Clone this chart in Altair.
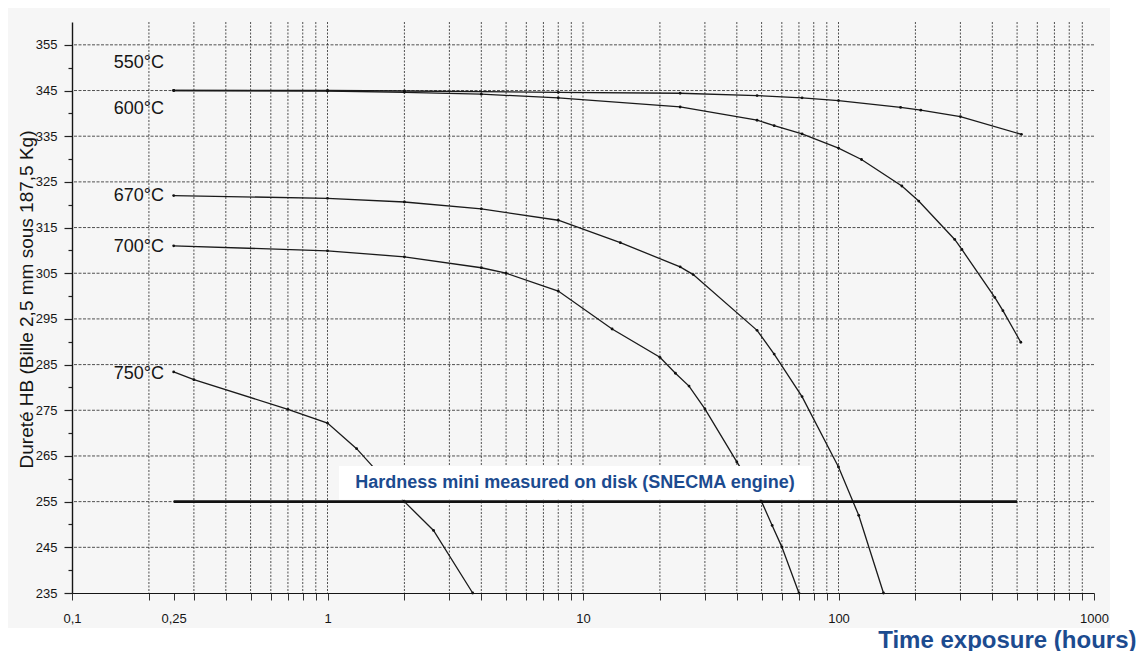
import altair as alt
import pandas as pd

# ---------------- data ----------------
temps = ["550°C", "600°C", "670°C", "700°C", "750°C"]

hours_550 = [0.25, 1, 2, 8, 24, 48, 72, 100, 175, 210, 300, 520]
hb_550 = [345, 345, 344.9, 344.6, 344.4, 343.9, 343.4, 342.8, 341.3, 340.7, 339.3, 335.4]

hours_600 = [0.25, 1, 2, 4, 8, 24, 48, 56, 72, 100, 123, 177, 206, 285, 304, 409, 440, 517]
hb_600 = [345, 344.9, 344.6, 344.2, 343.4, 341.4, 338.5, 337.3, 335.5, 332.4, 329.9, 324.1,
          320.8, 312.4, 310.2, 299.7, 296.8, 289.9]

hours_670 = [0.25, 1, 2, 4, 8, 14, 24, 27, 48, 56, 72, 100, 120, 150]
hb_670 = [322, 321.4, 320.6, 319.1, 316.6, 311.7, 306.4, 304.7, 292.5, 287.3, 278, 262.6, 252, 235]

hours_700 = [0.25, 1, 2, 4, 5, 8, 13, 20, 23, 26, 30, 40, 50, 55, 60, 70]
hb_700 = [311, 309.9, 308.6, 306.2, 305, 301.1, 292.8, 286.6, 283.1, 280.3, 275.3, 263.7,
          255, 249.8, 245.1, 235]

hours_750 = [0.25, 0.3, 0.7, 1, 1.3, 2, 2.6, 3.7]
hb_750 = [283.4, 281.7, 275.2, 272.2, 266.6, 255, 248.7, 235]

label_hours = 0.229
label_hb = [351.1, 341.0, 321.9, 310.7, 282.9]

ref_hours = [0.25, 500]
ref_hb = 255
ref_text = "Hardness mini measured on disk (SNECMA engine)"
box_hours = [1.11, 78]
box_hb = [255.4, 262.8]
box_text_at = [9.3, 259.0]

grid_x = [0.2, 0.3, 0.4, 0.5, 0.6, 0.7, 0.8, 0.9,
          1, 2, 3, 4, 5, 6, 7, 8, 9,
          10, 20, 30, 40, 50, 60, 70, 80, 90,
          100, 200, 300, 400, 500, 600, 700, 800, 900]
grid_y = [245, 255, 265, 275, 285, 295, 305, 315, 325, 335, 345, 355]
x_label_values = [0.1, 0.25, 1, 10, 100, 1000]
x_label_texts = ["0,1", "0,25", "1", "10", "100", "1000"]
y_tick_values = list(range(235, 360, 5))

x_title = "Time exposure (hours)"
y_title = "Dureté HB (Bille 2,5 mm sous 187,5 Kg)"

BLUE = "#1c4b8f"
INK = "#151515"
FONT = "Liberation Sans"

# ---------------- tables ----------------
series = [(hours_550, hb_550), (hours_600, hb_600), (hours_670, hb_670),
          (hours_700, hb_700), (hours_750, hb_750)]
curves = pd.concat(
    [pd.DataFrame({"x": h, "y": v, "temp": t}) for t, (h, v) in zip(temps, series)],
    ignore_index=True)
labels_df = pd.DataFrame({"x": [label_hours] * len(temps), "y": label_hb, "temp": temps})
gx_df = pd.DataFrame({"x": grid_x})
gy_df = pd.DataFrame({"y": grid_y})
ref_df = pd.DataFrame({"x": [ref_hours[0]], "x2": [ref_hours[1]], "y": [ref_hb]})
box_df = pd.DataFrame({"x": [box_hours[0]], "x2": [box_hours[1]],
                       "y": [box_hb[0]], "y2": [box_hb[1]]})
boxtxt_df = pd.DataFrame({"x": [box_text_at[0]], "y": [box_text_at[1]], "t": [ref_text]})

# ---------------- scales / axes ----------------
x_ticks = sorted(set(grid_x + x_label_values))
label_expr = " : ".join(
    [f"abs(datum.value - {v}) < 1e-9 ? '{t}'" for v, t in zip(x_label_values, x_label_texts)]
) + " : ''"

x_axis = alt.Axis(
    values=x_ticks, labelExpr=label_expr, grid=False, labelOverlap=False, labelFlush=False,
    tickSize=7, tickColor="#333", tickWidth=1, domainColor=INK, domainWidth=1.2,
    labelFont=FONT, labelFontSize=13, labelColor=INK, labelPadding=12, labelBaseline="top",
    title=x_title, titleFont=FONT, titleFontSize=24, titleFontWeight="bold", titleColor=BLUE,
    titleX=1064, titleY=54, titleAlign="right", titleBaseline="alphabetic", zindex=1)

y_axis = alt.Axis(
    values=y_tick_values, labelExpr="datum.value % 10 == 5 ? datum.value : ''",
    grid=False, labelOverlap=False, labelFlush=False,
    tickSize={"condition": {"test": "datum.value % 10 == 5", "value": 8}, "value": 4},
    tickColor="#222", tickWidth=1.2, domainColor=INK, domainWidth=1.4,
    labelFont=FONT, labelFontSize=13, labelColor=INK, labelPadding=7, labelBaseline="middle",
    title=y_title, titleFont=FONT, titleFontSize=19, titleFontWeight="normal", titleColor=INK,
    titleAngle=270, titleX=-46, titleY=277, titleAlign="center", titleBaseline="middle",
    zindex=1)

xs = alt.Scale(type="log", domain=[0.1, 1000], nice=False)
ys = alt.Scale(domain=[235, 360], nice=False, zero=False)
X = alt.X("x:Q", scale=xs, axis=x_axis)
Y = alt.Y("y:Q", scale=ys, axis=y_axis)

# ---------------- layers ----------------
bg = alt.Chart(pd.DataFrame({"a": [0]})).mark_rect(color="#f6f6f6").encode(
    x=alt.value(-64), x2=alt.value(1038), y=alt.value(-14), y2=alt.value(606))

vgrid = alt.Chart(gx_df).mark_rule(color="#2a2a2a", strokeWidth=0.9, strokeDash=[2, 1.5],
                                   opacity=0.9).encode(x=X)
hgrid = alt.Chart(gy_df).mark_rule(color="#2a2a2a", strokeWidth=0.9, strokeDash=[3, 1.5],
                                   opacity=0.9).encode(y=Y)

lines = alt.Chart(curves).mark_line(color="#1a1a1a", strokeWidth=1.3).encode(
    x=X, y=Y, detail="temp:N")
pts = alt.Chart(curves).mark_circle(color="#111", size=8, opacity=1).encode(x=X, y=Y)

box = alt.Chart(box_df).mark_rect(fill="white").encode(x=X, x2="x2:Q", y=Y, y2="y2:Q")
boxtxt = alt.Chart(boxtxt_df).mark_text(font=FONT, fontSize=18, fontWeight="bold",
                                        color=BLUE, align="center", baseline="middle").encode(
    x=X, y=Y, text="t:N")
ref = alt.Chart(ref_df).mark_rule(color="#111", strokeWidth=2.6).encode(x=X, x2="x2:Q", y=Y)

tlabels = alt.Chart(labels_df).mark_text(font=FONT, fontSize=18, color=INK, align="right",
                                         baseline="middle").encode(x=X, y=Y, text="temp:N")

chart = alt.layer(bg, vgrid, hgrid, lines, pts, box, boxtxt, ref, tlabels).properties(
    width=1022, height=571,
    padding={"left": 64, "top": 14, "right": 44, "bottom": 58},
    autosize=alt.AutoSizeParams(type="none"),
    background="white",
).configure_view(stroke="#222", strokeWidth=1.2)

chart.save("out.html", embed_options={"renderer": "svg", "actions": False})
